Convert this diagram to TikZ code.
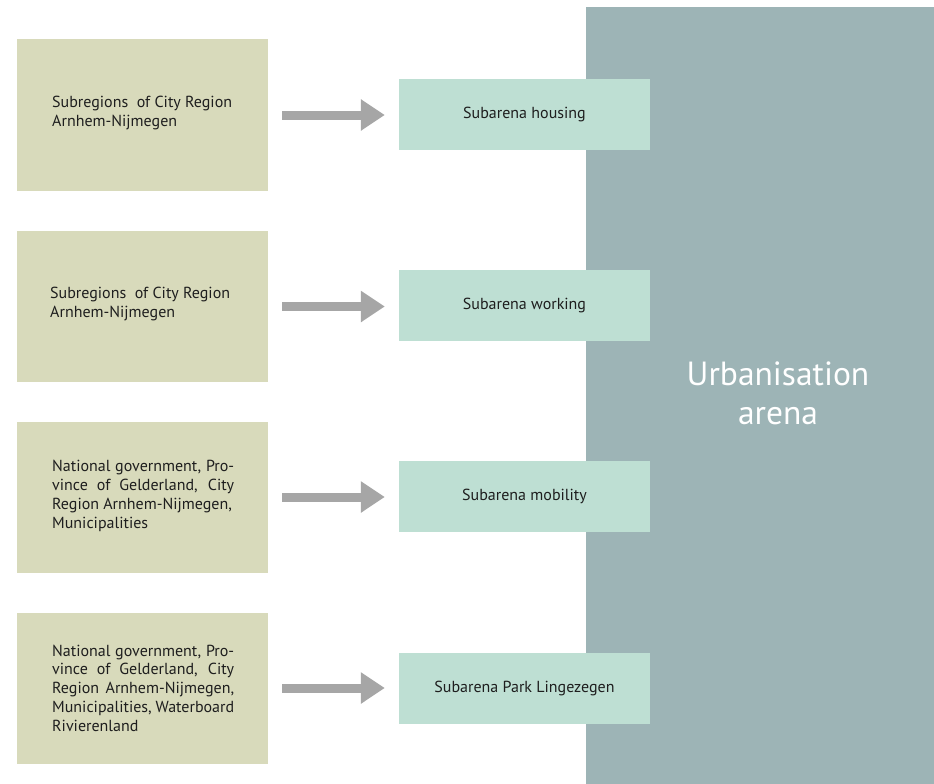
\documentclass[tikz,border=0pt]{standalone}
\usepackage{fontspec}
\setmainfont{PT Sans}
\usetikzlibrary{arrows.meta}
\definecolor{actorfill}{HTML}{D8DABB}
\definecolor{subfill}{HTML}{BEDFD3}
\definecolor{arenafill}{HTML}{9DB4B6}
\definecolor{arrowgray}{HTML}{A6A6A6}
\definecolor{textdark}{HTML}{1E1E1E}
\begin{document}
\begin{tikzpicture}[x=1pt, y=-1pt,
  actor/.style={fill=actorfill, minimum width=251pt, minimum height=151pt},
  actortext/.style={anchor=west, text width=182pt, align=justify, inner sep=0pt,
    text=textdark, font=\fontsize{16}{18.8}\selectfont},
  subarena/.style={fill=subfill, minimum width=251pt, minimum height=71pt,
    text=textdark, font=\fontsize{16}{18.8}\selectfont},
  feed/.style={draw=arrowgray, line width=9pt,
    -{Triangle[length=24pt, width=30pt]}, shorten <=14pt, shorten >=14pt}]
\useasboundingbox (0,0) rectangle (934,784);
% the arena behind the four subarenas
\node[fill=arenafill, minimum width=348pt, minimum height=777pt] (arena) at (760,395.5) {};
\node[text=white, align=center, font=\fontsize{33.5}{39}\selectfont] (arenalabel) at (778,393)
  {Urbanisation\\arena};
% actors on the left
\node[actor] (actor1) at (142.5,115) {};
\node[actortext] at (52,113) {Subregions\ \ of City Region\\Arnhem-Nijmegen};
\node[actor] (actor2) at (142.5,306.5) {};
\node[actortext] at (50,304) {Subregions\ \ of City Region\\Arnhem-Nijmegen};
\node[actor] (actor3) at (142.5,497) {};
\node[actortext] at (52,496) {National government, Pro-\linebreak vince of Gelderland, City\linebreak
  Region Arnhem-Nijmegen,\\Municipalities};
\node[actor] (actor4) at (142.5,688) {};
\node[actortext] at (52,688) {National government, Pro-\linebreak vince of Gelderland, City\linebreak
  Region Arnhem-Nijmegen,\linebreak Municipalities, Waterboard\\Rivierenland};
% subarenas, partly over the arena
\node[subarena] (sub1) at (524.5,114.5) {Subarena housing};
\node[subarena] (sub2) at (524.5,305.5) {Subarena working};
\node[subarena] (sub3) at (524.5,496.5) {Subarena mobility};
\node[subarena] (sub4) at (524.5,688) {Subarena Park Lingezegen};
% arrows from actors to subarenas
\draw[feed] (actor1.east) -- (sub1.west |- actor1.east);
\draw[feed] (actor2.east) -- (sub2.west |- actor2.east);
\draw[feed] (actor3.east) -- (sub3.west |- actor3.east);
\draw[feed] (actor4.east) -- (sub4.west |- actor4.east);
\end{tikzpicture}
\end{document}
